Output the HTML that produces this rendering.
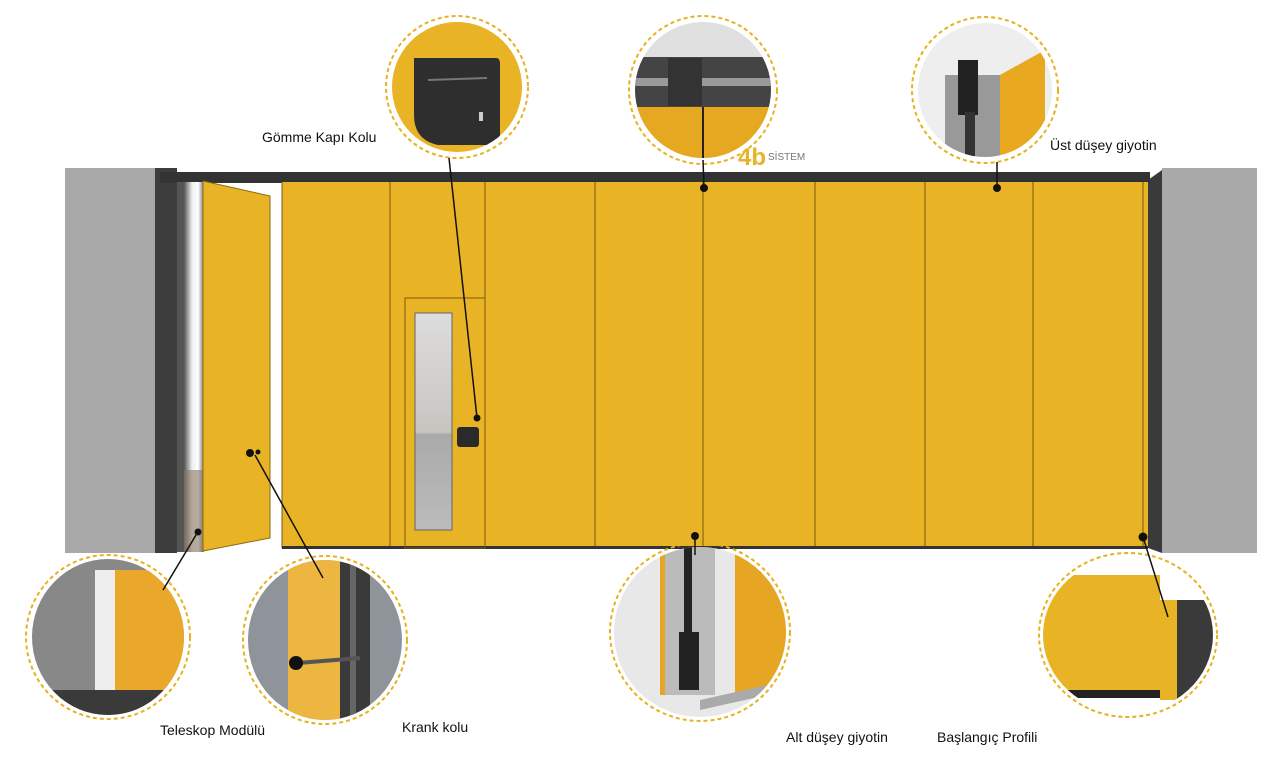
<!DOCTYPE html>
<html><head><meta charset="utf-8"><style>
html,body{margin:0;padding:0;background:#fff;}
svg{display:block}
text{font-family:"Liberation Sans",sans-serif;font-size:14px;fill:#111}
</style></head><body>
<svg width="1280" height="762" viewBox="0 0 1280 762" xmlns="http://www.w3.org/2000/svg">
<defs>
<linearGradient id="steel" x1="0" x2="1"><stop offset="0" stop-color="#555"/><stop offset="0.4" stop-color="#eee"/><stop offset="0.7" stop-color="#fff"/><stop offset="1" stop-color="#777"/></linearGradient>
<linearGradient id="glass" x1="0" y1="0" x2="0" y2="1"><stop offset="0" stop-color="#ddd"/><stop offset="0.55" stop-color="#c8c4c0"/><stop offset="0.56" stop-color="#aaa"/><stop offset="1" stop-color="#bbb"/></linearGradient>
<clipPath id="c1"><circle cx="457" cy="87" r="65"/></clipPath>
<clipPath id="c2"><circle cx="703" cy="90" r="68"/></clipPath>
<clipPath id="c3"><circle cx="985" cy="90" r="67"/></clipPath>
<clipPath id="c4"><ellipse cx="108" cy="637" rx="76" ry="78"/></clipPath>
<clipPath id="c5"><ellipse cx="325" cy="640" rx="77" ry="80"/></clipPath>
<clipPath id="c6"><ellipse cx="700" cy="632" rx="86" ry="85"/></clipPath>
<clipPath id="c7"><ellipse cx="1128" cy="635" rx="85" ry="78"/></clipPath>
</defs>

<rect x="65" y="168" width="95" height="385" fill="#a9a9a9"/>
<rect x="155" y="168" width="22" height="385" fill="#3d3d3d"/>
<rect x="1162" y="168" width="95" height="385" fill="#a9a9a9"/>
<polygon points="1148,180 1162,170 1162,553 1148,548" fill="#3a3a3a"/>
<rect x="160" y="172" width="990" height="11" fill="#333"/>
<rect x="177" y="182" width="8" height="370" fill="#555"/>
<rect x="184" y="182" width="20" height="370" fill="url(#steel)"/>
<rect x="184" y="470" width="20" height="82" fill="#8a7563" opacity=".6"/>
<rect x="204" y="183" width="78" height="365" fill="#fff"/>
<polygon points="203,181 270,196 270,538 203,551" fill="#e8b325" stroke="#8a6a10" stroke-width="1"/>
<rect x="282" y="182" width="866" height="366" fill="#e8b325"/>
<g stroke="#7a5a10" stroke-width="1">
<line x1="390" y1="182" x2="390" y2="548"/><line x1="485" y1="182" x2="485" y2="548"/>
<line x1="595" y1="182" x2="595" y2="548"/><line x1="703" y1="182" x2="703" y2="548"/>
<line x1="815" y1="182" x2="815" y2="548"/><line x1="925" y1="182" x2="925" y2="548"/>
<line x1="1033" y1="182" x2="1033" y2="548"/><line x1="1143" y1="182" x2="1143" y2="548"/>
<line x1="282" y1="182" x2="282" y2="548"/>
</g>
<rect x="282" y="546" width="866" height="3" fill="#333"/>
<rect x="405" y="298" width="80" height="250" fill="none" stroke="#7a5a10"/>
<rect x="415" y="313" width="37" height="217" fill="url(#glass)" stroke="#666"/>
<rect x="457" y="427" width="22" height="20" rx="3" fill="#2a2a2a"/>

<g clip-path="url(#c1)"><rect x="380" y="10" width="160" height="160" fill="#e8b325"/><path d="M414,58 H496 Q500,58 500,64 V145 H438 Q414,140 414,115 Z" fill="#2e2e2e"/><line x1="428" y1="80" x2="487" y2="78" stroke="#777" stroke-width="2"/><rect x="479" y="112" width="4" height="9" fill="#ccc"/></g>
<g clip-path="url(#c2)"><rect x="630" y="20" width="150" height="150" fill="#e0e0e0"/><rect x="630" y="57" width="150" height="50" fill="#444"/><rect x="630" y="78" width="150" height="8" fill="#999"/><rect x="668" y="58" width="34" height="48" fill="#333"/><rect x="630" y="107" width="150" height="60" fill="#e5a820"/><line x1="703" y1="107" x2="703" y2="165" stroke="#222" stroke-width="2"/></g>
<g clip-path="url(#c3)"><rect x="915" y="20" width="140" height="150" fill="#eee"/><polygon points="1000,75 1045,50 1045,170 1000,170" fill="#e8a820"/><rect x="945" y="75" width="55" height="95" fill="#999"/><rect x="958" y="60" width="20" height="55" fill="#222"/><rect x="965" y="112" width="10" height="58" fill="#333"/></g>
<g clip-path="url(#c4)"><rect x="25" y="555" width="170" height="170" fill="#888"/><rect x="95" y="570" width="20" height="125" fill="#eee"/><rect x="115" y="570" width="80" height="120" fill="#e9a82a"/><polygon points="25,690 195,690 195,720 25,720" fill="#3a3a3a"/></g>
<g clip-path="url(#c5)"><rect x="245" y="560" width="165" height="165" fill="#8e949a"/><rect x="288" y="560" width="52" height="165" fill="#ecb640"/><rect x="340" y="560" width="30" height="165" fill="#3a3a3a"/><rect x="350" y="560" width="6" height="165" fill="#666"/><line x1="298" y1="663" x2="360" y2="658" stroke="#555" stroke-width="4"/><circle cx="296" cy="663" r="7" fill="#111"/></g>
<g clip-path="url(#c6)"><rect x="610" y="545" width="185" height="180" fill="#e8e8e8"/><rect x="660" y="545" width="55" height="150" fill="#bbb"/><rect x="735" y="545" width="55" height="150" fill="#e6a624"/><rect x="660" y="545" width="5" height="150" fill="#e6a624"/><polygon points="700,700 790,680 790,690 700,710" fill="#aaa"/><rect x="684" y="545" width="8" height="90" fill="#222"/><rect x="679" y="632" width="20" height="58" fill="#222"/></g>
<g clip-path="url(#c7)"><rect x="1040" y="555" width="180" height="160" fill="#fff"/><rect x="1040" y="575" width="120" height="120" fill="#e8b325"/><rect x="1040" y="690" width="120" height="8" fill="#222"/><rect x="1160" y="600" width="18" height="100" fill="#e8b325"/><rect x="1177" y="600" width="45" height="110" fill="#3a3a3a"/></g>

<g fill="none" stroke="#e6b21d" stroke-width="2" stroke-dasharray="4,3">
<circle cx="457" cy="87" r="71"/>
<circle cx="703" cy="90" r="74"/>
<circle cx="985" cy="90" r="73"/>
<ellipse cx="108" cy="637" rx="82" ry="82"/>
<ellipse cx="325" cy="640" rx="82" ry="84"/>
<ellipse cx="700" cy="632" rx="90" ry="89"/>
<ellipse cx="1128" cy="635" rx="89" ry="82"/>
</g>

<g stroke="#111" stroke-width="1.5">
<line x1="449" y1="158" x2="477" y2="418"/>
<line x1="703" y1="160" x2="704" y2="188"/>
<line x1="997" y1="162" x2="997" y2="188"/>
<line x1="255" y1="455" x2="323" y2="578"/>
<line x1="196" y1="535" x2="163" y2="590"/>
<line x1="695" y1="536" x2="695" y2="555"/>
<line x1="1143" y1="537" x2="1168" y2="617"/>
</g>
<g fill="#111">
<circle cx="477" cy="418" r="3.5"/><circle cx="704" cy="188" r="4"/><circle cx="997" cy="188" r="4"/>
<circle cx="250" cy="453" r="4"/><circle cx="258" cy="452" r="2.5"/><circle cx="198" cy="532" r="3.5"/>
<circle cx="695" cy="536" r="4"/><circle cx="1143" cy="537" r="4.5"/>
</g>

<text x="738" y="165" style="font-size:24px;fill:#e8b325;font-weight:bold">4b</text>
<text x="768" y="160" style="font-size:10px;fill:#777">SİSTEM</text>

<text x="262" y="142">Gömme Kapı Kolu</text>
<text x="1050" y="150">Üst düşey giyotin</text>
<text x="160" y="735">Teleskop Modülü</text>
<text x="402" y="732">Krank kolu</text>
<text x="786" y="742">Alt düşey giyotin</text>
<text x="937" y="742">Başlangıç Profili</text>
</svg>
</body></html>
